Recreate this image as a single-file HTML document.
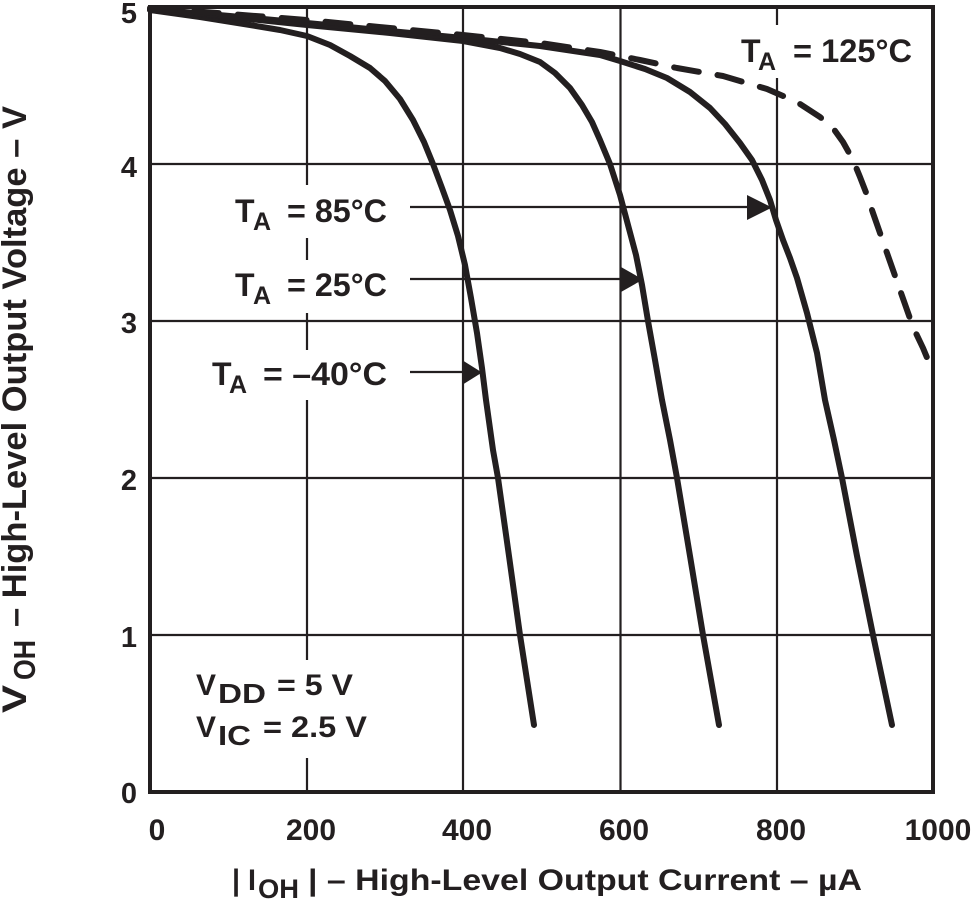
<!DOCTYPE html>
<html>
<head>
<meta charset="utf-8">
<style>
  html, body { margin: 0; padding: 0; background: #ffffff; }
  svg { display: block; }
  text { font-family: "Liberation Sans", Arial, sans-serif; font-weight: bold; fill: #231f20; }
</style>
</head>
<body>
<svg width="974" height="900" viewBox="0 0 974 900" xmlns="http://www.w3.org/2000/svg">
  <rect x="0" y="0" width="974" height="900" fill="#ffffff"/>

  <!-- grid -->
  <g stroke="#231f20" stroke-width="2.2" fill="none">
    <line x1="307" y1="7" x2="307" y2="792"/>
    <line x1="463" y1="7" x2="463" y2="792"/>
    <line x1="620.5" y1="7" x2="620.5" y2="792"/>
    <line x1="777" y1="7" x2="777" y2="792"/>
    <line x1="150" y1="164" x2="933" y2="164"/>
    <line x1="150" y1="321" x2="933" y2="321"/>
    <line x1="150" y1="478" x2="933" y2="478"/>
    <line x1="150" y1="635" x2="933" y2="635"/>
  </g>

  <!-- white label backgrounds -->
  <g fill="#ffffff">
    <rect x="225" y="185" width="175" height="53"/>
    <rect x="225" y="260" width="175" height="53"/>
    <rect x="205" y="350" width="195" height="50"/>
    <rect x="185" y="660" width="195" height="98"/>
    <rect x="730" y="25" width="195" height="53"/>
  </g>

  <!-- frame -->
  <rect x="150" y="7" width="783" height="785" fill="none" stroke="#231f20" stroke-width="4"/>

  <!-- curves -->
  <g fill="none" stroke="#231f20" stroke-width="6" stroke-linecap="round" stroke-linejoin="round">
    <polyline points="150,10 200,17 250,25 280,30 307,36 330,45 350,56 370,68 385,81 400,99 413,120 424,142 433,164 442,188 450,210 458,236 465,265 471,298 477,333 482,368 486,400 493,450 498,478 509,556 520,635 534,725"/>
    <polyline points="150,10 230,17 307,25 390,33 463,41 500,48 520,54 540,62 555,73 570,88 582,105 592,122 600,140 610,164 620,195 628,225 636,255 642,285 648,321 655,360 662,400 670,440 677,478 690,556 703,635 719,725"/>
    <polyline points="150,9 230,16 307,23 390,31 463,38 540,46 600,55 620,61 645,69 667,78 690,92 710,108 725,124 740,143 752,160 762,180 770,200 776,220 783,240 790,258 797,278 807,313 817,353 825,400 834,440 842,478 857,556 873,635 892,725"/>
    <polyline stroke-dasharray="25 19" points="150,8 230,14 307,20 390,28 463,35 540,43 600,52 640,60 677,68 723,76 767,89 797,102 820,117 833,128 843,142 853,160 860,177 867,195 873,213 887,253 900,290 913,327 923,348 933,372"/>
  </g>

  <!-- arrows -->
  <g stroke="#231f20" stroke-width="2.2">
    <line x1="410" y1="207" x2="750" y2="207"/>
    <line x1="410" y1="279" x2="624" y2="279"/>
    <line x1="410" y1="372" x2="465" y2="372"/>
  </g>
  <g fill="#231f20">
    <polygon points="747,195 747,220 772,207.5"/>
    <polygon points="621,267 621,292 643,279.5"/>
    <polygon points="462,360 462,385 482,372.5"/>
  </g>

  <!-- curve labels -->
  <text x="235" y="222" font-size="32">T</text>
  <text x="253" y="230" font-size="25">A</text>
  <text x="287" y="222" font-size="32" textLength="100" lengthAdjust="spacingAndGlyphs">= 85°C</text>

  <text x="235" y="296" font-size="32">T</text>
  <text x="253" y="304" font-size="25">A</text>
  <text x="287" y="296" font-size="32" textLength="100" lengthAdjust="spacingAndGlyphs">= 25°C</text>

  <text x="212" y="385" font-size="32">T</text>
  <text x="229" y="393" font-size="25">A</text>
  <text x="263" y="385" font-size="32" textLength="124" lengthAdjust="spacingAndGlyphs">= –40°C</text>

  <text x="741" y="62" font-size="32">T</text>
  <text x="758" y="70" font-size="25">A</text>
  <text x="793" y="62" font-size="32" textLength="119" lengthAdjust="spacingAndGlyphs">= 125°C</text>

  <!-- conditions -->
  <text x="196" y="695" font-size="30">V</text>
  <text x="218" y="703" font-size="28" textLength="48" lengthAdjust="spacingAndGlyphs">DD</text>
  <text x="277" y="695" font-size="30" textLength="76" lengthAdjust="spacingAndGlyphs">= 5 V</text>

  <text x="196" y="737" font-size="30">V</text>
  <text x="218" y="745" font-size="28" textLength="33" lengthAdjust="spacingAndGlyphs">IC</text>
  <text x="263" y="737" font-size="30" textLength="104" lengthAdjust="spacingAndGlyphs">= 2.5 V</text>

  <!-- y tick labels -->
  <g font-size="29" text-anchor="end">
    <text x="137" y="23">5</text>
    <text x="137" y="177">4</text>
    <text x="137" y="333">3</text>
    <text x="137" y="490">2</text>
    <text x="137" y="647">1</text>
    <text x="137" y="803">0</text>
  </g>

  <!-- x tick labels -->
  <g font-size="30" text-anchor="middle">
    <text x="157" y="840">0</text>
    <text x="311" y="840">200</text>
    <text x="467" y="840">400</text>
    <text x="624" y="840">600</text>
    <text x="781" y="840">800</text>
    <text x="938" y="840">1000</text>
  </g>

  <!-- x axis title -->
  <text x="232" y="890" font-size="30" textLength="24" lengthAdjust="spacingAndGlyphs">| I</text>
  <text x="258" y="898" font-size="27" textLength="41" lengthAdjust="spacingAndGlyphs">OH</text>
  <text x="308" y="890" font-size="30" textLength="554" lengthAdjust="spacingAndGlyphs">| – High-Level Output Current – µA</text>

  <!-- y axis title -->
  <g transform="translate(26,713) rotate(-90)">
    <text x="0" y="0" font-size="34" textLength="28" lengthAdjust="spacingAndGlyphs">V</text>
    <text x="33" y="9" font-size="31" textLength="40" lengthAdjust="spacingAndGlyphs">OH</text>
    <text x="86" y="0" font-size="34" textLength="521" lengthAdjust="spacingAndGlyphs">– High-Level Output Voltage – V</text>
  </g>
</svg>
</body>
</html>
